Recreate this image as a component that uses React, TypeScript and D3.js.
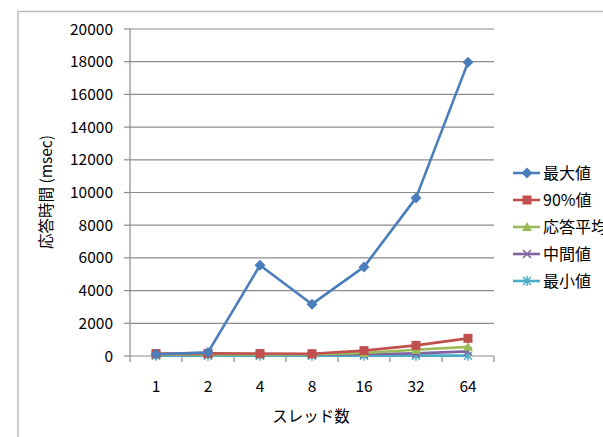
import React from "react";
import * as d3 from "d3";

const categories: string[] = ["1", "2", "4", "8", "16", "32", "64"];
const seriesNames: string[] = ["最大値", "90%値", "応答平均値", "中間値", "最小値"];
const maxValues: number[] = [110, 220, 5550, 3170, 5450, 9670, 17960];
const p90Values: number[] = [150, 160, 150, 140, 330, 650, 1080];
const avgValues: number[] = [90, 100, 100, 100, 180, 380, 560];
const medianValues: number[] = [70, 80, 80, 80, 110, 160, 280];
const minValues: number[] = [20, 20, 20, 20, 20, 20, 20];
const yTicks: number[] = [0, 2000, 4000, 6000, 8000, 10000, 12000, 14000, 16000, 18000, 20000];

const seriesValues = [maxValues, p90Values, avgValues, medianValues, minValues];
const colors = ["#4A7EBB", "#C0504D", "#9BBB59", "#8064A2", "#4BACC6"];
const markerTypes = ["diamond", "square", "triangle", "x", "star"];

const W = 603;
const H = 437;
const plotLeft = 130;
const plotRight = 494;
const plotTop = 29;
const plotBottom = 356;
const font = "'Noto Sans CJK JP', 'Liberation Sans', sans-serif";

function Marker({ type, x, y, color }: { type: string; x: number; y: number; color: string }) {
  if (type === "diamond") {
    const r = 5.5;
    return <path d={`M${x},${y - r}L${x + r},${y}L${x},${y + r}L${x - r},${y}Z`} fill={color} />;
  }
  if (type === "square") {
    const r = 4.5;
    return <rect x={x - r} y={y - r} width={2 * r} height={2 * r} fill={color} />;
  }
  if (type === "triangle") {
    const r = 5;
    return <path d={`M${x},${y - r}L${x + r},${y + r * 0.8}L${x - r},${y + r * 0.8}Z`} fill={color} />;
  }
  if (type === "x") {
    const r = 4;
    return (
      <path d={`M${x - r},${y - r}L${x + r},${y + r}M${x - r},${y + r}L${x + r},${y - r}`} stroke={color} strokeWidth={1.5} />
    );
  }
  const r = 4;
  return (
    <path
      d={`M${x - r},${y - r}L${x + r},${y + r}M${x - r},${y + r}L${x + r},${y - r}M${x},${y - r - 1}L${x},${y + r + 1}`}
      stroke={color}
      strokeWidth={1.5}
    />
  );
}

export default function App() {
  const x = d3.scaleBand<string>().domain(categories).range([plotLeft, plotRight]);
  const y = d3.scaleLinear().domain([0, 20000]).range([plotBottom, plotTop]);
  const cx = (c: string) => (x(c) as number) + x.bandwidth() / 2;
  const line = d3
    .line<number>()
    .x((_, i) => cx(categories[i]))
    .y((d) => y(d));

  const boundaries = categories.map((c) => x(c) as number).concat([plotRight]);
  const legendY0 = 173;
  const legendStep = 27;

  return (
    <svg
      width={W}
      height={H}
      style={{ position: "absolute", left: 0, top: 0, background: "#fff", overflow: "hidden" }}
      fontFamily={font}
    >
      <rect x={0} y={0} width={W} height={H} fill="#fff" />
      {/* chart frame */}
      <path d={`M18,${H + 2}V11.5H${W + 2}`} fill="none" stroke="#BDBDBD" strokeWidth={1.5} />

      {/* gridlines */}
      {yTicks.map((t) => (
        <line key={t} x1={plotLeft} x2={plotRight} y1={y(t)} y2={y(t)} stroke="#8C8C8C" strokeWidth={1.2} />
      ))}
      {/* y axis */}
      <line x1={plotLeft} x2={plotLeft} y1={plotTop} y2={plotBottom} stroke="#8C8C8C" strokeWidth={1.2} />
      {yTicks.map((t) => (
        <line key={"yt" + t} x1={plotLeft - 6} x2={plotLeft} y1={y(t)} y2={y(t)} stroke="#8C8C8C" strokeWidth={1.2} />
      ))}
      {yTicks.map((t) => (
        <text key={"yl" + t} x={113} y={y(t)} dy="0.36em" textAnchor="end" fontSize={15.5} fill="#000">
          {t}
        </text>
      ))}
      {/* x axis ticks */}
      {boundaries.map((b, i) => (
        <line key={"xt" + i} x1={b} x2={b} y1={plotBottom} y2={plotBottom + 6} stroke="#8C8C8C" strokeWidth={1.2} />
      ))}
      {categories.map((c) => (
        <text key={"xl" + c} x={cx(c)} y={386} dy="0.36em" textAnchor="middle" fontSize={15.5} fill="#000">
          {c}
        </text>
      ))}

      {/* axis titles */}
      <text x={311} y={416} dy="0.36em" textAnchor="middle" fontSize={15.5} fill="#000">
        スレッド数
      </text>
      <text
        transform={`translate(46,192) rotate(-90)`}
        dy="0.36em"
        textAnchor="middle"
        fontSize={15.5}
        fill="#000"
      >
        応答時間 (msec)
      </text>

      {/* series, drawn from the last so the maximum line sits on top */}
      {seriesValues
        .map((vals, si) => ({ vals, si }))
        .reverse()
        .map(({ vals, si }) => (
          <g key={"s" + si}>
            <path d={line(vals) || ""} fill="none" stroke={colors[si]} strokeWidth={2.6} strokeLinejoin="round" />
            {vals.map((v, i) => (
              <Marker key={i} type={markerTypes[si]} x={cx(categories[i])} y={y(v)} color={colors[si]} />
            ))}
          </g>
        ))}

      {/* legend */}
      {seriesNames.map((name, si) => {
        const ly = legendY0 + si * legendStep;
        return (
          <g key={"lg" + si}>
            <line x1={513} x2={540} y1={ly} y2={ly} stroke={colors[si]} strokeWidth={2.6} />
            <Marker type={markerTypes[si]} x={527} y={ly} color={colors[si]} />
            <text x={543} y={ly} dy="0.36em" fontSize={16} fill="#000">
              {name}
            </text>
          </g>
        );
      })}
    </svg>
  );
}
